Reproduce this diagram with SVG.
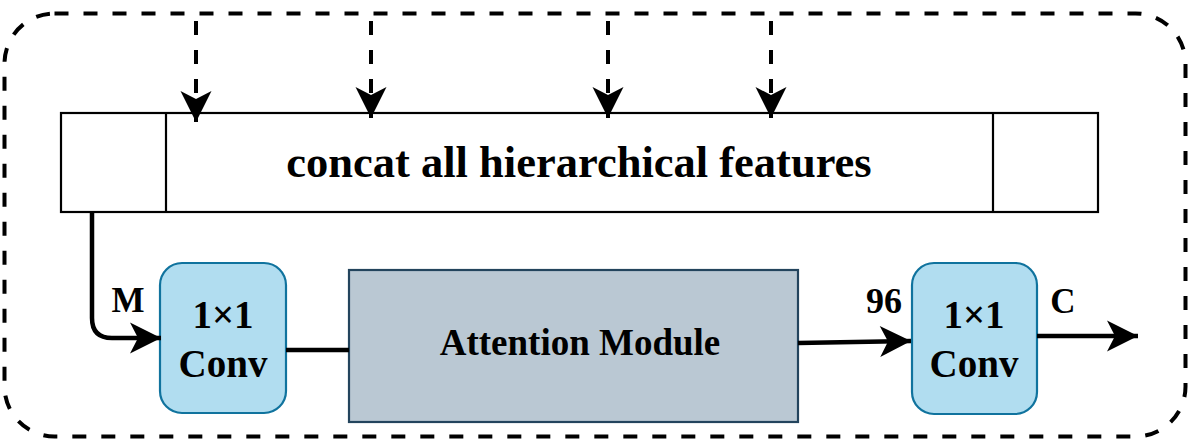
<svg xmlns="http://www.w3.org/2000/svg" width="1188" height="440" viewBox="0 0 1188 440">
<style>
.t{font-family:"Liberation Serif","Times New Roman",serif;font-weight:bold;fill:#000;text-anchor:middle}
.dash{fill:none;stroke:#000;stroke-width:4;stroke-dasharray:14 15}
.ln{fill:none;stroke:#000;stroke-width:4.5}
.box{fill:#fff;stroke:#000;stroke-width:2.2}
.conv{fill:#b1ddf0;stroke:#10739e;stroke-width:2.2}
.att{fill:#bac8d3;stroke:#23445d;stroke-width:2.2}
</style>
<defs>
<marker id="ah" markerUnits="userSpaceOnUse" markerWidth="34" markerHeight="34" viewBox="-32 -17 34 34" refX="0" refY="0" orient="auto" overflow="visible">
<path d="M0,0 L-31,-15.5 L-23,0 L-31,15.5 Z" fill="#000"/>
</marker>
</defs>
<rect id="frame" x="4.5" y="13.5" width="1181" height="423" rx="50" ry="50" class="dash"/>
<g id="concat">
<rect x="61" y="113" width="1037" height="99" class="box"/>
<line x1="166" y1="113" x2="166" y2="212" stroke="#000" stroke-width="2.2"/>
<line x1="993" y1="113" x2="993" y2="212" stroke="#000" stroke-width="2.2"/>
<text x="579" y="177" class="t" font-size="44.5">concat all hierarchical features</text>
</g>
<g id="conv1">
<rect x="160" y="263" width="126" height="150" rx="22" ry="22" class="conv"/>
<text x="223" y="328" class="t" font-size="39">1×1</text>
<text x="223" y="377" class="t" font-size="39">Conv</text>
</g>
<g id="attention">
<rect x="349" y="270" width="449" height="152" class="att"/>
<text x="580" y="355" class="t" font-size="37">Attention Module</text>
</g>
<g id="conv2">
<rect x="912" y="263" width="125" height="151" rx="22" ry="22" class="conv"/>
<text x="974" y="328" class="t" font-size="39">1×1</text>
<text x="974" y="377" class="t" font-size="39">Conv</text>
</g>
<g id="connectors">
<path d="M196,21 V122" class="dash" marker-end="url(#ah)"/>
<path d="M371,21 V118" class="dash" marker-end="url(#ah)"/>
<path d="M608,21 V118" class="dash" marker-end="url(#ah)"/>
<path d="M771,21 V118" class="dash" marker-end="url(#ah)"/>
<path d="M92,212 V318 Q92,338 112,338 H161" class="ln" marker-end="url(#ah)"/>
<path d="M286,350 H349" class="ln"/>
<path d="M798,343 L911,341" class="ln" marker-end="url(#ah)"/>
<path d="M1037,336 H1138" class="ln" marker-end="url(#ah)"/>
</g>
<g id="labels">
<text x="128" y="312" class="t" font-size="35">M</text>
<text x="884" y="313" class="t" font-size="36">96</text>
<text x="1063" y="313" class="t" font-size="35">C</text>
</g>
</svg>
